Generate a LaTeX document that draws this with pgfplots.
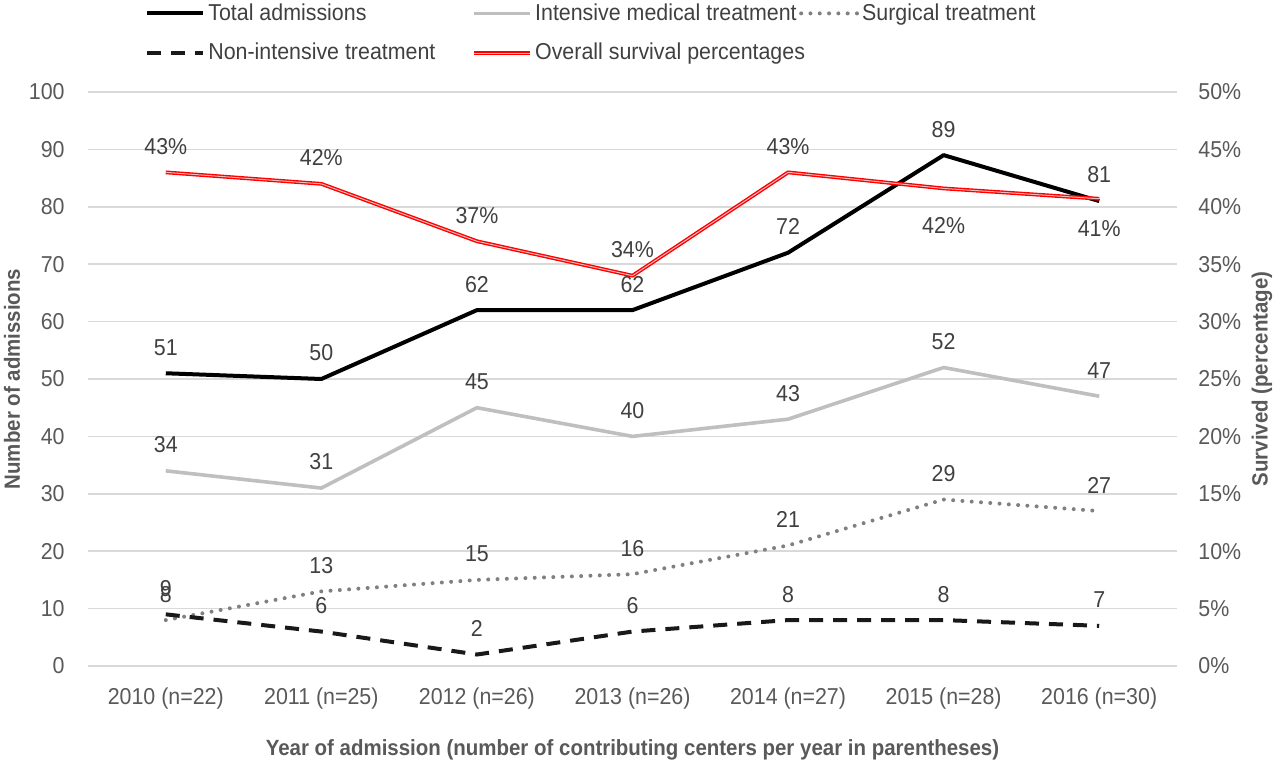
\documentclass[border=0pt]{standalone}
\usepackage{fontspec}
\setmainfont{Liberation Sans}[FakeStretch=0.93, BoldFont={Liberation Sans Bold}]
\usepackage{pgfplots}
\pgfplotsset{compat=1.18}
\usepackage{pgfplotstable}

\definecolor{ticktxt}{HTML}{595959}
\definecolor{lbltxt}{HTML}{404040}
\definecolor{gridc}{HTML}{D9D9D9}
\definecolor{intens}{HTML}{BFBFBF}
\definecolor{surg}{HTML}{808080}
\definecolor{survin}{HTML}{F4B8B8}

% admissions per year (2010..2016)
\pgfplotstableread{
x total intensive surgical nonint
0 51 34 8  9
1 50 31 13 6
2 62 45 15 2
3 62 40 16 6
4 72 43 21 8
5 89 52 29 8
6 81 47 27 7
}\adm

% overall survival (percent), label and label offset
\pgfplotstableread{
x surv lab dy
0 43   43 13
1 42   42 13
2 37   37 13
3 34   34 13
4 43   43 13
5 41.6 42 -18.5
6 40.7 41 -15
}\surv

\newcommand{\txt}{\fontsize{11.5}{13}\selectfont}
\newcommand{\lab}{\bfseries\fontsize{11}{13}\selectfont}

\pgfplotsset{
  base/.style={
    scale only axis, width=544.5pt, height=287pt, at={(44pt,50.5pt)},
    xmin=-0.5, xmax=6.5, ymin=0,
    axis line style={draw=none}, major tick length=0pt,
    font=\txt,
    /pgf/number format/assume math mode=true,
    tick label style={text=ticktxt, font=\txt},
    clip=false,
  },
  lbl/.style={nodes near coords, point meta=y,
    nodes near coords style={font=\txt, text=lbltxt, anchor=center, yshift=#1}},
  survline/.style={draw=red, line width=0.7pt, double=survin,
    double distance=0.5pt, line join=round},
}

\begin{document}
\begin{tikzpicture}
\useasboundingbox (0,0) rectangle (640pt,383.5pt);
\begin{axis}[base,
  ymax=100, ytick={0,10,...,100},
  ymajorgrids, grid style={gridc, line width=0.8pt},
  xtick={0,...,6},
  xticklabels={{2010 (n=22)},{2011 (n=25)},{2012 (n=26)},{2013 (n=26)},
    {2014 (n=27)},{2015 (n=28)},{2016 (n=30)}},
  xticklabel style={anchor=center, yshift=-16.5pt},
  yticklabel style={anchor=east, inner sep=0pt, xshift=-11.5pt},
  xlabel={Year of admission (number of contributing centers per year in parentheses)},
  ylabel={Number of admissions},
  every axis x label/.style={at={(axis description cs:0.5,0)}, anchor=center,
    yshift=-42pt, font=\lab, text=ticktxt},
  every axis y label/.style={at={(axis description cs:-0.0698,0.5)}, rotate=90,
    anchor=center, font=\lab, text=ticktxt},
  legend columns=3,
  legend cell align=left,
  legend style={at={(axis description cs:0.0523,1.160)}, anchor=north west,
    draw=none, fill=none, inner sep=0pt, text=lbltxt, font=\txt,
    nodes={inner sep=1.5pt}, row sep=7pt},
  legend image code/.code={\draw[#1] (0pt,0pt) -- (28pt,0pt);},
]
\addplot[black, line width=2pt, line join=round, lbl=13pt]
  table[x=x, y=total]{\adm};
\addlegendentry{\makebox[130.5pt][l]{Total admissions}}
\addplot[intens, line width=1.8pt, line join=round, lbl=13pt]
  table[x=x, y=intensive]{\adm};
\addlegendentry{\makebox[130.5pt][l]{Intensive medical treatment}}
\addplot[surg, line width=2pt, line cap=round, dash pattern=on 0pt off 4.65pt, lbl=13pt]
  table[x=x, y=surgical]{\adm};
\addlegendentry{Surgical treatment}
\addplot[black!90, line width=2pt, dash pattern=on 7pt off 5pt, lbl=13pt]
  table[x=x, y=nonint]{\adm};
\addlegendentry{\makebox[130.5pt][l]{Non-intensive treatment}}
\addlegendimage{survline}
\addlegendentry{\makebox[130.5pt][l]{Overall survival percentages}}
\end{axis}

\begin{axis}[base,
  ymax=50, ytick={0,5,...,50},
  axis y line*=right, hide x axis,
  yticklabel={\pgfmathprintnumber{\tick}\%},
  yticklabel style={anchor=west, inner sep=0pt, xshift=10.5pt},
  ylabel={Survived (percentage)},
  every axis y label/.style={at={(axis description cs:1.078,0.5)}, rotate=90,
    anchor=center, font=\lab, text=ticktxt},
]
\addplot[survline, nodes near coords={\pgfmathprintnumber{\pgfplotspointmeta}\%},
  point meta=\thisrow{lab},
  visualization depends on={\thisrow{dy}\as\dy},
  nodes near coords style={font=\txt, text=lbltxt, anchor=center, yshift=\dy pt}]
  table[x=x, y=surv]{\surv};
\end{axis}
\end{tikzpicture}
\end{document}
